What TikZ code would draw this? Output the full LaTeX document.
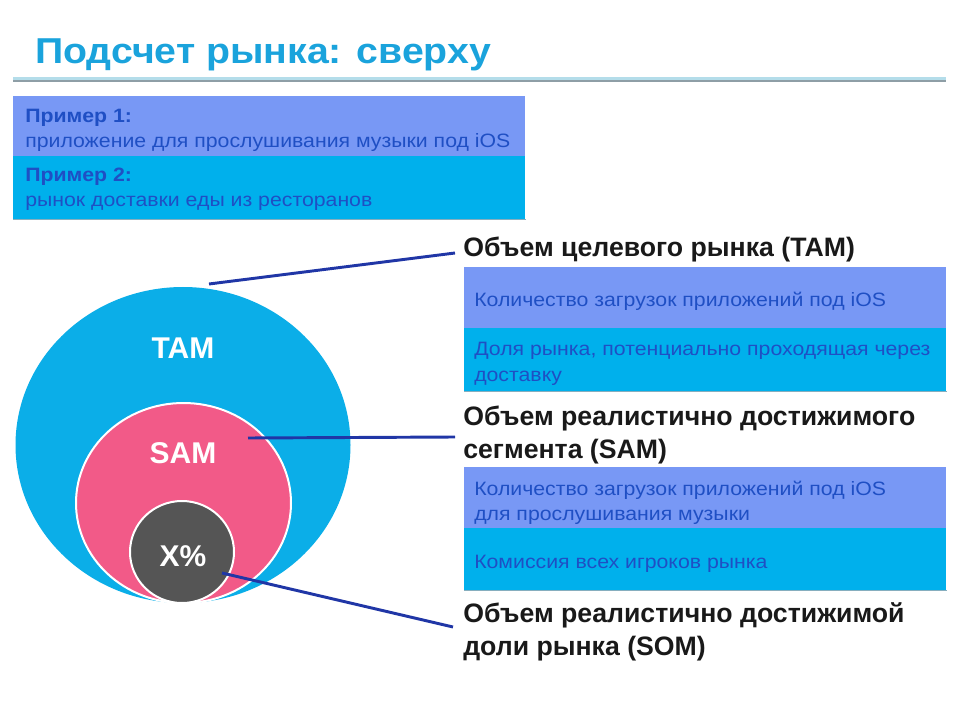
\documentclass[tikz,border=0pt]{standalone}
\usepackage{fontspec}
\setmainfont{Liberation Sans}
\newfontfamily\widesans[FakeStretch=1.1]{Liberation Sans}
\newfontfamily\titlesans[FakeStretch=1.09]{Liberation Sans}
\usetikzlibrary{shapes.geometric,calc}
\definecolor{peri}{HTML}{7898F5}
\definecolor{cyanbox}{HTML}{00B0EC}
\definecolor{tamc}{HTML}{0BAEE8}
\definecolor{samc}{HTML}{F25A88}
\definecolor{somc}{HTML}{555555}
\definecolor{txtblue}{HTML}{1F4FC4}
\definecolor{titleblue}{HTML}{1AA3DC}
\definecolor{linkblue}{HTML}{2036A6}
\definecolor{sepblue}{HTML}{B4DDEA}
\definecolor{sepgray}{HTML}{8E9EA6}
\definecolor{shadowc}{HTML}{86AEBE}
\tikzset{
  box/.style={rectangle, anchor=north west, inner sep=0pt, minimum width=#1},
  boxtxt/.style={anchor=base west, inner sep=0pt, text=txtblue, font=\widesans\fontsize{14.5pt}{17pt}\selectfont},
  boxbold/.style={boxtxt, font=\widesans\fontsize{14.5pt}{17pt}\selectfont\bfseries},
  headtxt/.style={anchor=base west, inner sep=0pt, text=black!90, font=\fontsize{20pt}{24pt}\selectfont\bfseries},
  circlbl/.style={anchor=base, inner sep=0pt, text=white, font=\fontsize{22.5pt}{26pt}\selectfont\bfseries},
  link/.style={draw=linkblue, line width=2.2pt},
  shadowline/.style={draw=shadowc, line width=1.2pt}
}
\begin{document}
\begin{tikzpicture}[x=0.75pt, y=-0.75pt]
\useasboundingbox (0,0) rectangle (960,720);
% title
\node[anchor=base west, inner sep=0pt, text=titleblue, font=\titlesans\fontsize{27pt}{32pt}\selectfont\bfseries] (title) at (35,64) {Подсчет рынка: сверху};
\fill[sepblue] (13,77) rectangle (946,80);
\fill[sepgray] (13,80) rectangle (946,82.5);
% top example box
\node[box=384pt, minimum height=45pt, fill=peri] (ex1) at (13,96) {};
\node[box=384pt, minimum height=47.25pt, fill=cyanbox] (ex2) at (13,156) {};
\draw[shadowline] (ex2.south west) -- (ex2.south east);
\node[boxbold] (ex1a) at (25,123) {Пример 1:};
\node[boxtxt] (ex1b) at (25,148) {приложение для прослушивания музыки под iOS};
\node[boxbold] (ex2a) at (25,182) {Пример 2:};
\node[boxtxt] (ex2b) at (25,207) {рынок доставки еды из ресторанов};
% circles
\node[ellipse, fill=tamc, minimum width=251.25pt, minimum height=237pt, inner sep=0pt] (tam) at (183,445) {};
\node[ellipse, fill=samc, draw=white, line width=1.5pt, minimum width=161.25pt, minimum height=150pt, inner sep=0pt] (sam) at (183.5,503) {};
\node[ellipse, fill=somc, draw=white, line width=1.5pt, minimum width=78pt, minimum height=76.5pt, inner sep=0pt] (som) at (182,552) {};
\node[circlbl] (tamlbl) at (183,358) {TAM};
\node[circlbl] (samlbl) at (183,463) {SAM};
\node[circlbl] (somlbl) at (183,566) {X\%};
% TAM heading and box
\node[headtxt] (tamh) at (463,257) {Объем целевого рынка (TAM)};
\node[box=361.5pt, minimum height=45.75pt, fill=peri] (tam1) at (464,267) {};
\node[box=361.5pt, minimum height=47.25pt, fill=cyanbox] (tam2) at (464,328) {};
\draw[shadowline] (tam2.south west) -- (tam2.south east);
\node[boxtxt] (tam1a) at (474,306) {Количество загрузок приложений под iOS};
\node[boxtxt] (tam2a) at (474,355) {Доля рынка, потенциально проходящая через};
\node[boxtxt] (tam2b) at (474,381) {доставку};
% SAM heading and box
\node[headtxt] (samh1) at (463,425) {Объем реалистично достижимого};
\node[headtxt] (samh2) at (463,458) {сегмента (SAM)};
\node[box=361.5pt, minimum height=45.75pt, fill=peri] (sam1) at (464,467) {};
\node[box=361.5pt, minimum height=46.5pt, fill=cyanbox] (sam2) at (464,528) {};
\draw[shadowline] (sam2.south west) -- (sam2.south east);
\node[boxtxt] (sam1a) at (474,495) {Количество загрузок приложений под iOS};
\node[boxtxt] (sam1b) at (474,520) {для прослушивания музыки};
\node[boxtxt] (sam2a) at (474,568) {Комиссия всех игроков рынка};
% SOM heading
\node[headtxt] (somh1) at (463,622) {Объем реалистично достижимой};
\node[headtxt] (somh2) at (463,655) {доли рынка (SOM)};
% connectors
\coordinate (tamstart) at (209,284);
\coordinate (samstart) at (248,438);
\coordinate (somstart) at (222,573);
\coordinate (tamend) at (455,253);
\coordinate (samend) at (455,437);
\coordinate (somend) at (453,627);
\draw[link] (tamstart) -- (tamend);
\draw[link] (samstart) -- (samend);
\draw[link] (somstart) -- (somend);
\end{tikzpicture}
\end{document}
